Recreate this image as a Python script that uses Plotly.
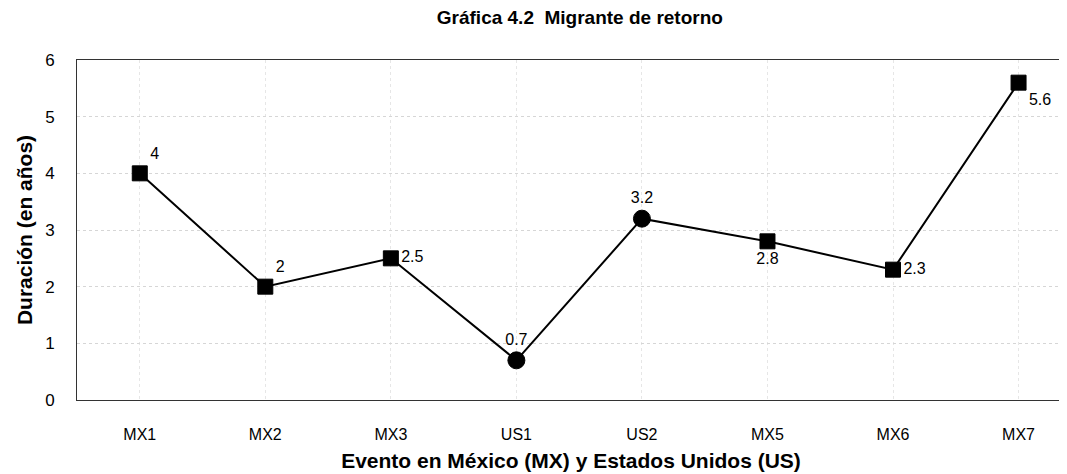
"""Gráfica 4.2 - Migrante de retorno, line chart with labelled points."""

import plotly.graph_objects as go

# data
eventos = ["MX1", "MX2", "MX3", "US1", "US2", "MX5", "MX6", "MX7"]
duracion = [4, 2, 2.5, 0.7, 3.2, 2.8, 2.3, 5.6]
etiquetas = ["4", "2", "2.5", "0.7", "3.2", "2.8", "2.3", "5.6"]
y_ticks = [0, 1, 2, 3, 4, 5, 6]

# square for México events, circle for Estados Unidos events
symbols = ["circle" if e.startswith("US") else "square" for e in eventos]
sizes = [17 if e.startswith("US") else 15 for e in eventos]
text_pos = [
    "top right", "top right", "middle right", "top center",
    "top center", "bottom center", "middle right", "bottom right",
]

font = "Liberation Sans, Arial, sans-serif"

fig = go.Figure()
fig.add_trace(
    go.Scatter(
        x=list(range(len(eventos))),
        y=duracion,
        mode="lines+markers+text",
        text=etiquetas,
        textposition=text_pos,
        textfont=dict(family=font, size=16, color="#000000"),
        line=dict(color="#000000", width=2),
        marker=dict(
            symbol=symbols, size=sizes, color="#000000", opacity=1,
            line=dict(color="#000000", width=1),
        ),
        cliponaxis=False,
        showlegend=False,
    )
)

# the page body adds an 8px margin, so the figure is sized to fit inside
fig.update_layout(
    width=1059,
    height=466,
    paper_bgcolor="white",
    plot_bgcolor="white",
    font=dict(family=font, color="#000000"),
    title=dict(
        text="<b>Gráfica 4.2  Migrante de retorno</b>",
        x=0.54,
        xanchor="center",
        y=0.995,
        yanchor="top",
        font=dict(size=19),
        automargin=False,
    ),
    margin=dict(l=69, r=2, t=52, b=74),
)

fig.update_xaxes(
    tickmode="array",
    tickvals=list(range(len(eventos))),
    ticktext=eventos,
    range=[-0.5, 7.37],
    tickfont=dict(size=16),
    ticks="",
    ticklabelstandoff=20,
    automargin=False,
    showgrid=True,
    gridcolor="#e6e6e6",
    griddash="dot",
    showline=True,
    linecolor="#333333",
    linewidth=1,
    mirror=True,
    zeroline=False,
    title=dict(
        text="<b>Evento en México (MX) y Estados Unidos (US)</b>",
        font=dict(size=21),
        standoff=11,
    ),
)

fig.update_yaxes(
    tickvals=y_ticks,
    range=[0, 6],
    tickfont=dict(size=17),
    ticks="",
    ticklabelstandoff=18,
    automargin=False,
    showgrid=True,
    gridcolor="#d6d6d6",
    griddash="dot",
    showline=True,
    linecolor="#333333",
    linewidth=1,
    mirror=True,
    zeroline=False,
    title=dict(
        text="<b>Duración (en años)</b>",
        font=dict(size=21),
        standoff=6,
    ),
)

fig.write_html("out.html")
